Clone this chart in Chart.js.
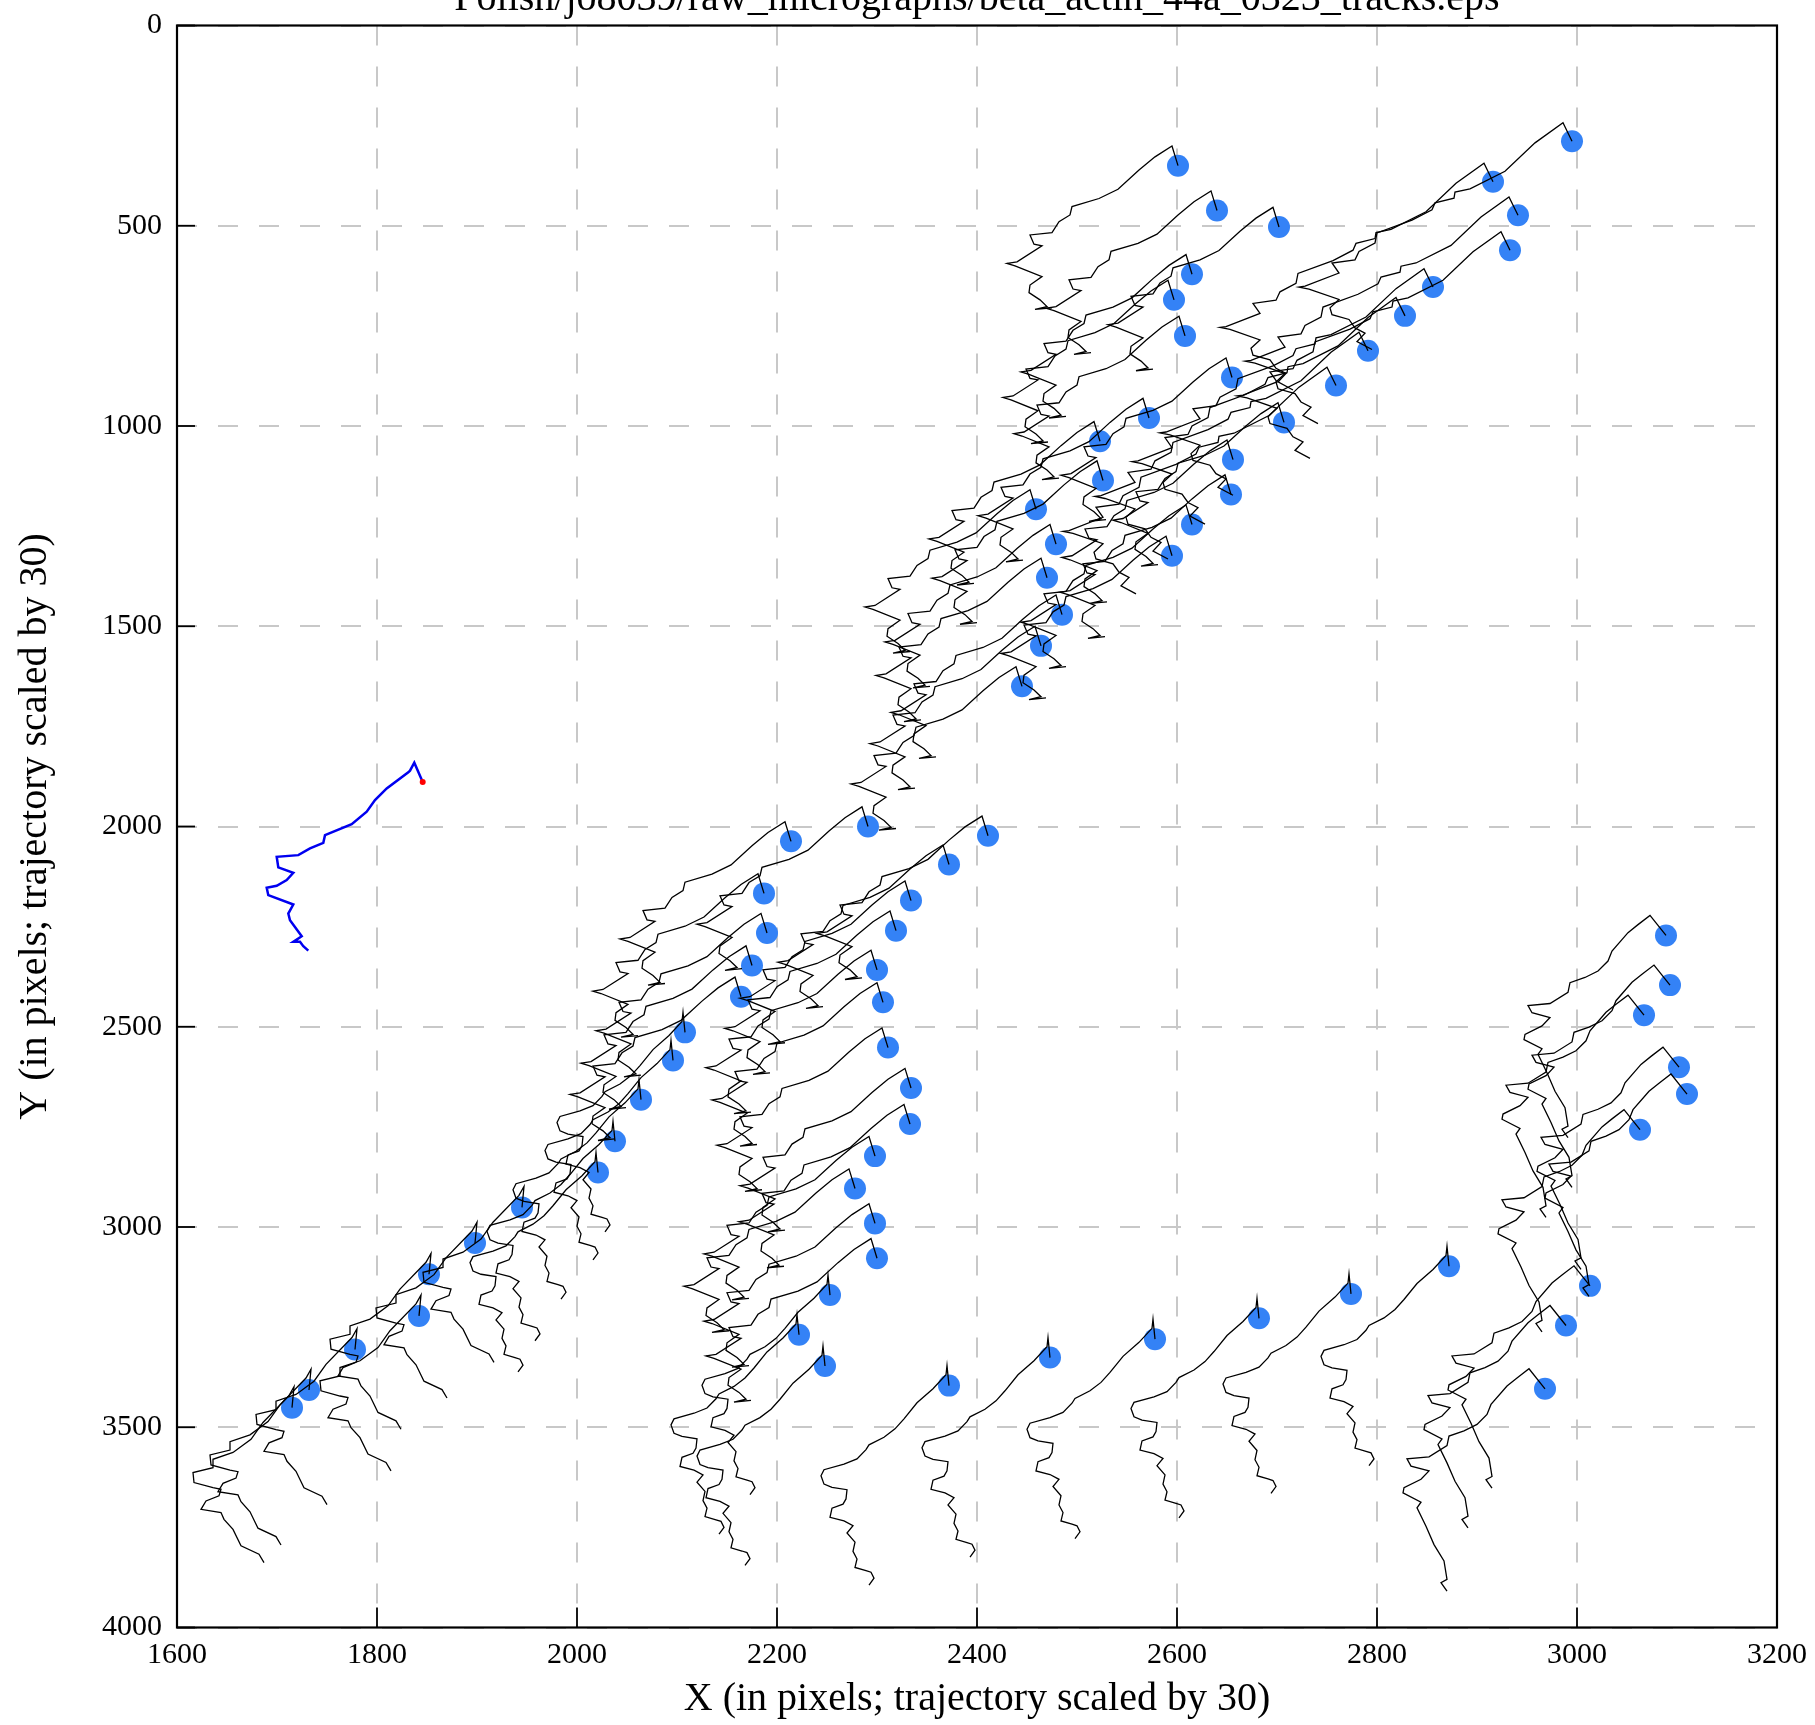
<!DOCTYPE html>
<html><head><meta charset="utf-8">
<script src="https://cdn.jsdelivr.net/npm/chart.js@4.4.1/dist/chart.umd.min.js"></script>
<style>html,body{margin:0;padding:0;background:#fff}#wrap{width:1815px;height:1725px}</style>
</head><body><div id="wrap"><canvas id="c" width="1815" height="1725"></canvas></div>
<script>
const TITLE = "Polish/jo8039/raw_micrographs/beta_actin_44a_0323_tracks.eps";
const X_LABEL = "X (in pixels; trajectory scaled by 30)";
const Y_LABEL = "Y (in pixels; trajectory scaled by 30)";
const X_TICKS = [1600,1800,2000,2200,2400,2600,2800,3000,3200];
const Y_TICKS = [0,500,1000,1500,2000,2500,3000,3500,4000];

// particle positions (blue dots)
const DOT_X = [2601,2640,2702,2615,2597,2608,2655,2572,2523,2526,2707,2656,2654,2615,2595,2459,2479,2470,2485,2464,2445,
  2995,2916,2941,2933,2856,2828,2791,2759,
  2291,2214,2187,2190,2175,2164,2108,2096,2064,2038,2021,1945,1898,1852,1842,1778,1732,1715,
  2411,2372,2334,2319,2300,2306,2311,2334,2333,2298,2278,2298,2300,2253,2222,2248,
  2372,2473,2578,2682,2774,2872,
  3089,3093,3067,3102,3110,3063,3013,2989,2968];
const DOT_Y = [350,462,503,621,685,775,879,980,1038,1136,991,1084,1171,1246,1324,1208,1295,1379,1471,1549,1650,
  289,390,474,561,653,725,812,899,
  2000,2037,2167,2266,2347,2425,2514,2584,2682,2786,2864,2951,3040,3118,3222,3306,3407,3451,
  2023,2095,2185,2260,2358,2439,2552,2653,2743,2823,2904,2991,3078,3170,3269,3347,
  3396,3326,3280,3228,3167,3098,
  2272,2396,2471,2601,2668,2757,3147,3246,3404];
// which track shape each particle follows (0 UL,1 UR,2 ML,3 B,4 R)
const DOT_GROUP = [0,0,0,0,0,0,0,0,0,0,0,0,0,0,0,0,0,0,0,0,0,
  1,1,1,1,1,1,1,1,
  0,0,0,0,0,0,3,3,3,3,3,2,2,2,2,2,2,2,
  0,0,0,0,0,0,0,0,0,0,0,0,0,3,3,3,
  3,3,3,3,3,3,
  4,4,4,4,4,4,4,4,4];

// trajectory shapes (offsets from the particle, already scaled by 30)
const UL_DX = [0,-6,-23,-39,-60,-79,-106,-108,-119,-126,-148,-144,-136,-161,-171,-163,-136,-148,-149,-138,-131,-143,-126];
const UL_DY = [0,-49,-22,11,59,82,102,123,140,167,173,196,200,240,244,250,277,298,317,335,352,359,355];
const UR_DX = [0,-9,-37,-67,-102,-117,-118,-137,-140,-160,-195,-197,-213,-217,-240,-233,-267,-273,-263,-233,-242,-240,-223,-217,-207,-215,-200];
const UR_DY = [0,-46,4,75,119,127,142,154,171,197,229,254,275,296,304,329,362,364,369,395,416,433,445,466,479,500,520];
const ML_DX = [0,2,-3,-29,-41,-59,-79,-79,-99,-98,-79,-71,-73,-86,-91,-71,-68,-59,-51,-33,-28];
const ML_DY = [0,-52,-30,37,79,112,129,150,162,187,200,204,220,233,254,262,279,304,345,366,387];
const B_DX = [0,-2,-3,-16,-32,-45,-54,-65,-80,-83,-92,-105,-125,-128,-125,-117,-102,-103,-106,-117,-119,-105,-96,-102,-94,-96,-92,-94,-83,-78,-75,-80];
const B_DY = [0,-50,-27,8,43,83,108,129,148,160,183,196,210,225,246,254,260,283,296,306,329,338,350,368,391,414,433,454,462,466,481,498];
const R_DX = [0,-16,-28,-38,-54,-58,-68,-81,-96,-98,-116,-138,-134,-116,-124,-141,-142,-124,-128,-119,-111,-101,-98,-104,-98];
const R_DY = [0,-50,-27,-7,39,64,89,105,118,142,170,175,193,205,226,247,260,283,297,343,389,430,476,484,505];

// reference (blue) trajectory and its start (red)
const BLUE_X = [1845.7,1837.3,1833,1831.3,1809.7,1798,1789.7,1774.7,1748,1746.3,1733,1721.3,1699.7,1701.3,1716.3,1709.7,1699.7,1689.7,1691.3,1716.3,1711.3,1713,1724.7,1716.3,1723,1726.3,1731.3];
const BLUE_Y = [1889,1840.7,1860.6,1864.8,1904.8,1934,1963,1994,2021.6,2040.7,2054.8,2071.5,2075.6,2102,2115.6,2133.9,2148,2153,2171.5,2194.8,2217.3,2234,2273.9,2288,2288,2299,2310];
const RED_X = [1845.7];
const RED_Y = [1889];

const SHAPES = [[UL_DX,UL_DY],[UR_DX,UR_DY],[ML_DX,ML_DY],[B_DX,B_DY],[R_DX,R_DY]];
const FONT = '"Liberation Serif", "Times New Roman", serif';

const datasets = [];
datasets.push({label:'particles', data: DOT_X.map((x,i)=>({x, y: DOT_Y[i]})),
  pointRadius: 11, pointHoverRadius: 11, pointBackgroundColor: 'rgb(52,130,246)', pointBorderWidth: 0,
  showLine: false, order: 5});
DOT_X.forEach((x0,i)=>{
  const [dx,dy] = SHAPES[DOT_GROUP[i]];
  datasets.push({label:'track'+i, data: dx.map((d,k)=>({x: x0 + d, y: DOT_Y[i] + dy[k]})),
    showLine: true, pointRadius: 0, borderColor: '#000', borderWidth: 1.3, tension: 0, order: 3});
});
datasets.push({label:'ref', data: BLUE_X.map((x,i)=>({x, y: BLUE_Y[i]})), showLine: true, pointRadius: 0,
  borderColor: 'rgb(0,0,240)', borderWidth: 2.5, tension: 0, order: 1});
datasets.push({label:'start', data: RED_X.map((x,i)=>({x, y: RED_Y[i]})), pointRadius: 3, pointBackgroundColor: 'rgb(255,0,0)',
  pointBorderWidth: 0, showLine: false, order: 0});

const frame = {
  id: 'frame',
  afterDraw(chart) {
    const {ctx, chartArea: a, scales} = chart;
    ctx.save();
    ctx.setLineDash([]);
    ctx.strokeStyle = '#000';
    ctx.lineWidth = 1.8;
    X_TICKS.forEach(v => { const p = scales.x.getPixelForValue(v);
      ctx.beginPath(); ctx.moveTo(p, a.bottom); ctx.lineTo(p, a.bottom - 20); ctx.stroke(); });
    Y_TICKS.forEach(v => { const p = scales.y.getPixelForValue(v);
      ctx.beginPath(); ctx.moveTo(a.left, p); ctx.lineTo(a.left + 18, p); ctx.stroke(); });
    ctx.lineWidth = 2.2;
    ctx.strokeRect(a.left, a.top, a.right - a.left, a.bottom - a.top);
    ctx.fillStyle = '#000';
    ctx.font = '40px ' + FONT;
    ctx.textAlign = 'center';
    ctx.textBaseline = 'alphabetic';
    ctx.fillText(TITLE, (a.left + a.right) / 2, 9.5);
    ctx.restore();
  }
};

const noPad = s => { s.paddingLeft = 0; s.paddingRight = 0; s.paddingTop = 0; s.paddingBottom = 0; };

new Chart(document.getElementById('c'), {
  type: 'scatter',
  data: { datasets },
  options: {
    responsive: false, animation: false, devicePixelRatio: 1,
    layout: { padding: { top: 25.5, right: 38, left: 0, bottom: 0 } },
    plugins: { legend: { display: false }, tooltip: { enabled: false } },
    scales: {
      x: { type: 'linear', position: 'bottom', min: 1600, max: 3200,
        afterBuildTicks: s => { s.ticks = X_TICKS.map(v => ({value: v})); },
        ticks: { font: { family: FONT, size: 30 }, color: '#000', padding: 10, maxRotation: 0,
          callback: v => String(v) },
        grid: { color: 'rgb(200,200,200)', lineWidth: 2, drawTicks: false },
        border: { display: false, dash: [20, 21] },
        title: { display: true, text: X_LABEL, color: '#000', font: { family: FONT, size: 40 }, padding: { top: 0, bottom: 2 } },
        afterFit: s => { s.height = 97.5; noPad(s); } },
      y: { type: 'linear', position: 'left', reverse: true, min: 0, max: 4000,
        afterBuildTicks: s => { s.ticks = Y_TICKS.map(v => ({value: v})); },
        ticks: { font: { family: FONT, size: 30 }, color: '#000', padding: 15, callback: v => String(v) },
        grid: { color: 'rgb(200,200,200)', lineWidth: 2, drawTicks: false },
        border: { display: false, dash: [20, 21] },
        title: { display: true, text: Y_LABEL, color: '#000', font: { family: FONT, size: 40 }, padding: { top: 11, bottom: 0 } },
        afterFit: s => { s.width = 177; noPad(s); } }
    }
  },
  plugins: [frame]
});
</script>
</body></html>
